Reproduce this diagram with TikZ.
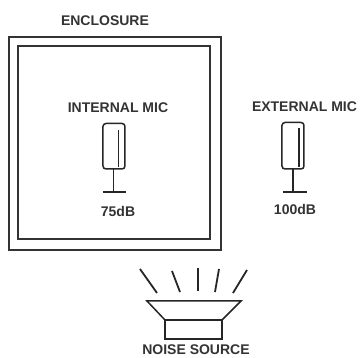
\documentclass[tikz,border=0pt]{standalone}
\usepackage{fontspec}
\setmainfont{Liberation Sans}
\tikzset{
  lbl/.style={inner sep=0pt,font=\bfseries\fontsize{14}{16}\selectfont,text=black!80},
  wall/.style={draw=black!80,line width=2pt,line join=miter},
  thin line/.style={draw=black!85,line width=1.5pt},
  micbody/.style={draw=black!85,line width=1.5pt,rounded corners=3pt},
  ray/.style={draw=black!85,line width=1.8pt}
}
\begin{document}
\begin{tikzpicture}[x=1pt,y=-1pt]
\useasboundingbox[fill=white] (0,0) rectangle (360,358);
% enclosure
\draw[wall] (9,37.5) rectangle (221,250.5);
\draw[wall] (18,46) rectangle (210,239);
\node[lbl] (enc) at (105,21) {ENCLOSURE};
% internal mic
\node[lbl] (imic) at (118,108) {INTERNAL MIC};
\draw[micbody] (103,123.5) rectangle (125,169);
\draw[thin line] (118.5,130) -- (118.5,167);
\draw[thin line] (113.5,169) -- (113.5,192);
\draw[thin line] (103,192) -- (126,192);
\node[lbl] (ilevel) at (118,211) {75dB};
% external mic
\node[lbl] (emic) at (304.5,107) {EXTERNAL MIC};
\draw[micbody] (282,122.5) rectangle (304,169);
\draw[thin line] (299,128.5) -- (299,167);
\draw[thin line] (293,169) -- (293,192);
\draw[thin line] (283,192) -- (307,192);
\node[lbl] (elevel) at (295,209.5) {100dB};
% speaker
\draw[thin line,line join=miter] (147,301) -- (241,301) -- (222,320) -- (165,320) -- cycle;
\draw[thin line] (165,320) rectangle (222,339);
\draw[ray] (140,269) -- (157,293);
\draw[ray] (172,271) -- (180,292);
\draw[ray] (198,268) -- (198,291);
\draw[ray] (219,269) -- (215,292);
\draw[ray] (247,270) -- (233,293);
\node[lbl] (noise) at (196,350) {NOISE SOURCE};
\end{tikzpicture}
\end{document}
